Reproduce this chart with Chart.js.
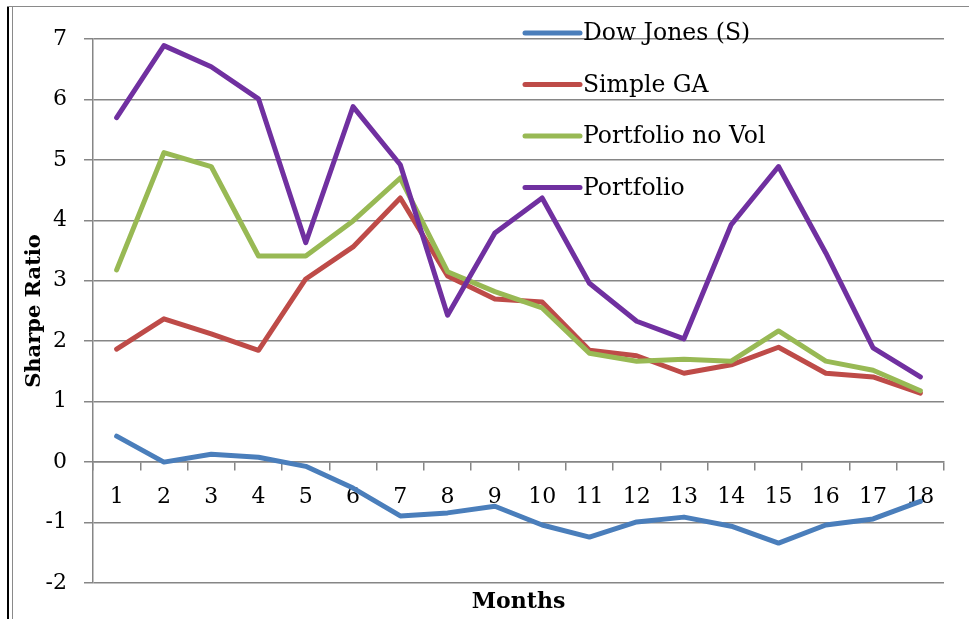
<!DOCTYPE html>
<html>
<head>
<meta charset="utf-8">
<script src="https://cdn.jsdelivr.net/npm/chart.js@4.4.1/dist/chart.umd.min.js"></script>
<style>
  html, body { margin: 0; padding: 0; background: #fff; }
  #wrap { position: relative; width: 969px; height: 619px; overflow: hidden; background: #fff; }
  #c { position: absolute; left: 0; top: 0; }
  .fr { position: absolute; }
</style>
</head>
<body>
<div id="wrap">
  <div class="fr" style="left:7px; top:6px; width:2px; bottom:0; background:#000;"></div>
  <div class="fr" style="left:12px; top:7px; width:1px; bottom:0; background:#8a8a8a;"></div>
  <div class="fr" style="left:7px; top:6px; right:0; height:1px; background:#8a8a8a;"></div>
  <canvas id="c" width="969" height="619"></canvas>
</div>
<script>
const months = ['1','2','3','4','5','6','7','8','9','10','11','12','13','14','15','16','17','18'];
const seriesNames = ['Dow Jones (S)', 'Simple GA', 'Portfolio no Vol', 'Portfolio'];
const dowJones = [0.43, 0.00, 0.13, 0.08, -0.07, -0.43, -0.89, -0.84, -0.73, -1.04, -1.24, -0.99, -0.91, -1.06, -1.34, -1.04, -0.94, -0.65];
const simpleGA = [1.87, 2.37, 2.12, 1.85, 3.03, 3.56, 4.37, 3.08, 2.70, 2.65, 1.85, 1.76, 1.47, 1.61, 1.90, 1.47, 1.41, 1.14];
const portfolioNoVol = [3.18, 5.12, 4.89, 3.41, 3.41, 3.99, 4.70, 3.15, 2.82, 2.55, 1.80, 1.67, 1.70, 1.67, 2.17, 1.67, 1.52, 1.18];
const portfolio = [5.70, 6.89, 6.54, 6.01, 3.63, 5.88, 4.92, 2.43, 3.79, 4.37, 2.96, 2.33, 2.04, 3.93, 4.89, 3.46, 1.89, 1.41];
const yTicks = [-2, -1, 0, 1, 2, 3, 4, 5, 6, 7];
const colors = ['#4A7EBB', '#BE4B48', '#98B954', '#7030A0'];

const SERIF = '"DejaVu Serif", serif';
const GRID = '#868686';

const legendPlugin = {
  id: 'insideLegend',
  afterDatasetsDraw(chart, args, opts) {
    const ctx = chart.ctx;
    const ca = chart.chartArea;
    ctx.save();
    chart.data.datasets.forEach((ds, i) => {
      const y = ca.top + opts.top + i * opts.spacing;
      const x0 = ca.left + opts.left;
      ctx.beginPath();
      ctx.strokeStyle = ds.borderColor;
      ctx.lineWidth = 5;
      ctx.lineCap = 'round';
      ctx.moveTo(x0, y);
      ctx.lineTo(x0 + opts.sample, y);
      ctx.stroke();
      ctx.fillStyle = '#000';
      ctx.font = opts.font;
      ctx.textBaseline = 'middle';
      ctx.textAlign = 'left';
      ctx.fillText(ds.label, x0 + opts.sample + 3, y + 1);
    });
    ctx.restore();
  }
};

const seriesData = [dowJones, simpleGA, portfolioNoVol, portfolio];
const datasets = seriesData.map((d, i) => ({
  label: seriesNames[i],
  data: d,
  borderColor: colors[i],
  backgroundColor: colors[i],
  borderWidth: 5,
  pointRadius: 0,
  pointHoverRadius: 0,
  tension: 0,
  fill: false,
  borderJoinStyle: 'round',
  borderCapStyle: 'round',
  order: 4 - i
}));

new Chart(document.getElementById('c'), {
  type: 'line',
  data: { labels: months, datasets },
  plugins: [legendPlugin],
  options: {
    responsive: false,
    animation: false,
    events: [],
    layout: { padding: { left: 8, top: 39, right: 25, bottom: 0 } },
    plugins: {
      legend: { display: false },
      tooltip: { enabled: false },
      insideLegend: { left: 432, top: -6, spacing: 51.5, sample: 55, font: '23.5px ' + SERIF }
    },
    scales: {
      x: {
        type: 'category',
        position: { y: 0 },
        offset: true,
        grid: { offset: true, drawOnChartArea: false, drawTicks: true, tickLength: 8, color: GRID, lineWidth: 1.5 },
        border: { display: true, color: GRID, width: 1.5 },
        ticks: { color: '#000', font: { family: SERIF, size: 22 }, padding: 14, maxRotation: 0, autoSkip: false }
      },
      x2: {
        type: 'category',
        position: 'bottom',
        labels: months,
        grid: { display: false },
        border: { display: false },
        ticks: { display: false },
        title: { display: true, text: 'Months', color: '#000', font: { family: SERIF, size: 22, weight: 'bold' }, padding: { top: 0, bottom: 4 } },
        afterFit(s) { s.height = 36; }
      },
      y: {
        type: 'linear',
        position: 'left',
        min: -2,
        max: 7,
        afterBuildTicks(s) { s.ticks = yTicks.map(v => ({ value: v })); },
        grid: { color: GRID, lineWidth: 1.5, tickLength: 9, drawTicks: true },
        border: { display: true, color: GRID, width: 1.5 },
        ticks: { color: '#000', font: { family: SERIF, size: 22 }, padding: 17 },
        title: { display: true, text: 'Sharpe Ratio', color: '#000', font: { family: SERIF, size: 21, weight: 'bold' }, padding: { top: 14, bottom: 0 } },
        afterFit(s) { s.width = 85; }
      }
    }
  }
});
</script>
</body>
</html>
